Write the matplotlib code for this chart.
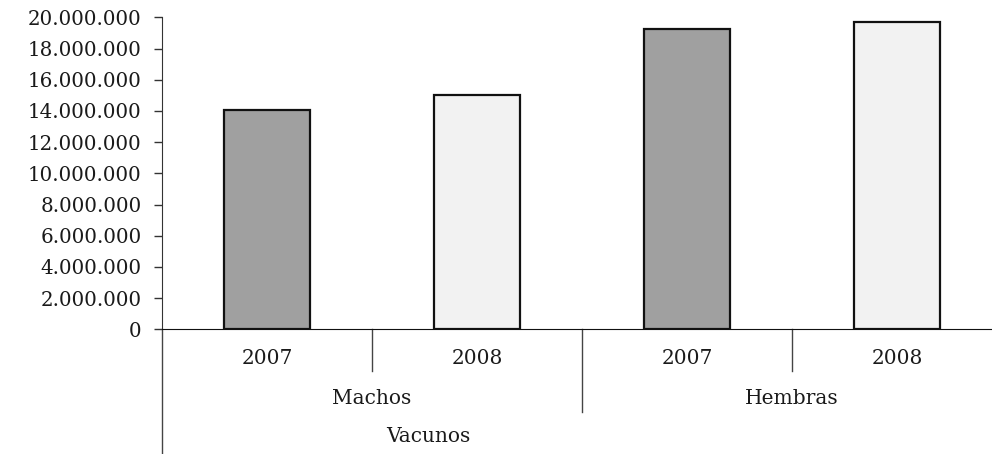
import matplotlib.pyplot as plt
from matplotlib.ticker import FuncFormatter

# data
groups = ["Machos", "Hembras"]
years = ["2007", "2008", "2007", "2008"]
values = [14060000, 15000000, 19230000, 19700000]
colors = ["#a0a0a0", "#f2f2f2", "#a0a0a0", "#f2f2f2"]
outer_label = "Vacunos"

plt.rcParams['font.family'] = ['DejaVu Serif']

fig = plt.figure(figsize=(9.92, 4.54), dpi=100)
# axes extends past the right edge like in the original
ax = fig.add_axes([162 / 992, (454 - 329.3) / 454, 840 / 992, 312 / 454])

x = range(len(values))
ax.bar(x, values, width=0.405, color=colors, edgecolor="#111111", linewidth=1.6, zorder=3)

ax.set_xlim(-0.5, 3.5)
ax.set_ylim(0, 20000000)
ax.set_yticks(range(0, 20000001, 2000000))
ax.yaxis.set_major_formatter(FuncFormatter(lambda v, p: f"{int(v):,}".replace(",", ".")))
ax.tick_params(axis="y", length=6, width=1, color="#333333", pad=8.5, labelsize=14.3,
               labelcolor="#1a1a1a")
ax.set_xticks([])

for s in ["top", "right"]:
    ax.spines[s].set_visible(False)
ax.spines["left"].set_color("#333333")
ax.spines["bottom"].set_color("#111111")

tr = ax.get_xaxis_transform()
kw = dict(transform=tr, clip_on=False, color="#444444", linewidth=1)
# separators between years and groups
ax.plot([0.5, 0.5], [0, -0.134], **kw)
ax.plot([2.5, 2.5], [0, -0.134], **kw)
ax.plot([1.5, 1.5], [0, -0.265], **kw)
ax.plot([-0.5, -0.5], [0, -0.395], **kw)

txt = dict(transform=tr, ha="center", va="center", fontsize=14.5, color="#1a1a1a")
for i, yr in enumerate(years):
    ax.text(i, -0.092, yr, **txt)
for i, g in enumerate(groups):
    ax.text(0.5 + 2 * i, -0.223, g, **txt)
ax.text(0.767, -0.345, outer_label, **txt)

fig.savefig("out.png", dpi=100)
